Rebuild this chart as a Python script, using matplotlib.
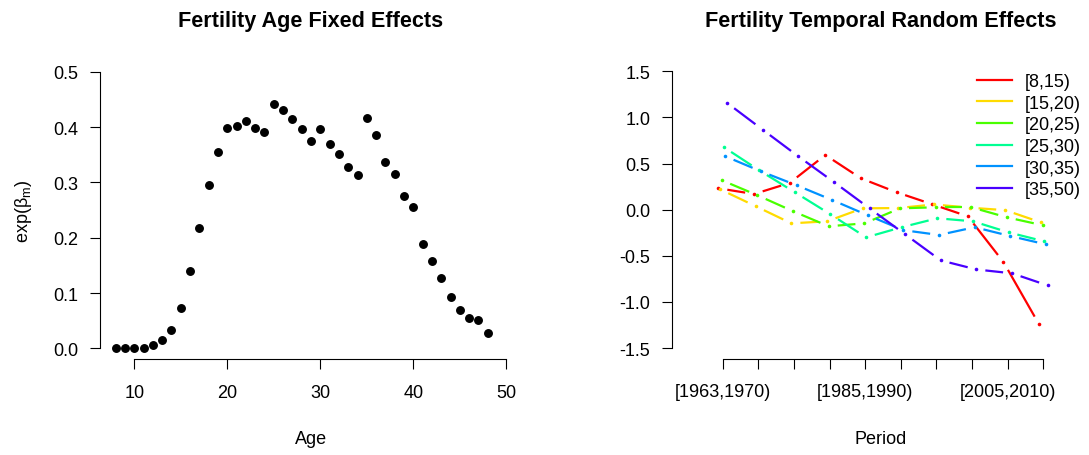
import numpy as np
import matplotlib
matplotlib.use("Agg")
import matplotlib.pyplot as plt
from matplotlib.lines import Line2D

plt.rcParams['font.family'] = ['Liberation Sans', 'DejaVu Sans']
plt.rcParams['mathtext.fontset'] = 'custom'
plt.rcParams['mathtext.rm'] = 'Liberation Sans'
plt.rcParams['mathtext.it'] = 'Liberation Sans'
plt.rcParams['font.size'] = 13

# left panel: age fixed effects
ages = np.arange(8, 49)
age_effects = [0.001, 0.001, 0.001, 0.001, 0.0066, 0.015, 0.034, 0.073, 0.139, 0.218,
               0.296, 0.355, 0.398, 0.402, 0.411, 0.399, 0.392, 0.442, 0.431, 0.415,
               0.397, 0.375, 0.397, 0.370, 0.351, 0.327, 0.313, 0.417, 0.386, 0.337,
               0.316, 0.276, 0.256, 0.189, 0.158, 0.128, 0.093, 0.070, 0.055, 0.052,
               0.028]

# right panel: temporal random effects by age group
periods = ['[1963,1970)', '[1970,1975)', '[1975,1980)', '[1980,1985)', '[1985,1990)',
           '[1990,1995)', '[1995,2000)', '[2000,2005)', '[2005,2010)', '[2010,2015)']
groups = ['[8,15)', '[15,20)', '[20,25)', '[25,30)', '[30,35)', '[35,50)']
re_8_15 = [0.232, 0.170, 0.290, 0.593, 0.340, 0.189, 0.059, -0.072, -0.568, -1.244]
re_15_20 = [0.221, 0.037, -0.148, -0.126, 0.015, 0.018, 0.057, 0.022, -0.005, -0.137]
re_20_25 = [0.319, 0.156, -0.017, -0.180, -0.148, 0.015, 0.026, 0.026, -0.083, -0.168]
re_25_30 = [0.680, 0.427, 0.189, -0.050, -0.300, -0.190, -0.093, -0.126, -0.246, -0.343]
re_30_35 = [0.579, 0.416, 0.265, 0.105, -0.061, -0.222, -0.274, -0.190, -0.286, -0.376]
re_35_50 = [1.159, 0.868, 0.579, 0.300, 0.015, -0.267, -0.550, -0.648, -0.690, -0.821]
series = [re_8_15, re_15_20, re_20_25, re_25_30, re_30_35, re_35_50]
colors = ['#FF0000', '#FFDB00', '#49FF00', '#00FF92', '#0092FF', '#4900FF']

W, H = 1089, 456
fig = plt.figure(figsize=(W / 100, H / 100), dpi=100)

def px_axes(x0, x1, y0, y1):
    return fig.add_axes([x0 / W, 1 - y1 / H, (x1 - x0) / W, (y1 - y0) / H])

def r_style(ax, xb, yb):
    for s in ['top', 'right']:
        ax.spines[s].set_visible(False)
    ax.spines['left'].set_bounds(*yb)
    ax.spines['bottom'].set_bounds(*xb)
    for s in ['left', 'bottom']:
        ax.spines[s].set_linewidth(0.8)
    ax.tick_params(length=7.5, width=0.8, labelsize=13)
    ax.tick_params(axis='y', pad=8)
    ax.tick_params(axis='x', pad=10)

# ---- left
ax1 = px_axes(100, 522, 61.7, 360.4)
ax1.plot(ages, age_effects, 'o', color='black', ms=5.4)
ax1.set_xlim(6.32, 51.68)
ax1.set_ylim(-0.02, 0.52)
ax1.set_xticks([10, 20, 30, 40, 50])
ax1.set_yticks([0.0, 0.1, 0.2, 0.3, 0.4, 0.5])
ax1.set_yticklabels(['%.1f' % v for v in ax1.get_yticks()])
r_style(ax1, (10, 50), (0, 0.5))
ax1.set_title('Fertility Age Fixed Effects', fontsize=15.6, fontweight='bold', pad=25)
ax1.set_xlabel('Age', labelpad=21)
ax1.set_ylabel(r'exp($\beta_{\rm m}$)', labelpad=14)

# ---- right
ax2 = px_axes(672, 1089, 61.3, 360.1)
ax2.set_xlim(-1.423, 10.28)
ax2.set_ylim(-1.62, 1.62)
x = np.arange(len(periods))
offsets = np.linspace(-0.12, 0.12, len(series))
gap = 9.0  # px gap around points (R type="b")
for vals, c, off in zip(series, colors, offsets):
    xs = x + off
    pts = ax2.transData.transform(np.column_stack([xs, vals]))
    for i in range(len(pts) - 1):
        p0, p1 = pts[i], pts[i + 1]
        d = p1 - p0
        L = np.hypot(*d)
        if L <= 2 * gap:
            continue
        u = d / L
        seg = ax2.transData.inverted().transform(np.array([p0 + u * gap, p1 - u * gap]))
        ax2.plot(seg[:, 0], seg[:, 1], color=c, lw=1.6, solid_capstyle='butt')
    ax2.plot(xs, vals, 'o', color=c, ms=2.6, mew=0)
ax2.set_yticks([-1.5, -1.0, -0.5, 0.0, 0.5, 1.0, 1.5])
ax2.set_yticklabels(['%.1f' % v for v in ax2.get_yticks()])
ax2.set_xticks(x)
ax2.set_xticklabels([p if i % 4 == 0 else '' for i, p in enumerate(periods)])
r_style(ax2, (0, 9), (-1.5, 1.5))
ax2.set_title('Fertility Temporal Random Effects', fontsize=15.6, fontweight='bold', pad=25)
ax2.set_xlabel('Period', labelpad=21)

handles = [Line2D([], [], color=c, lw=1.6) for c in colors]
fig.legend(handles, groups, loc='upper left', frameon=False,
           bbox_to_anchor=(976.7 / W, 1 - 74 / H), borderaxespad=0, borderpad=0,
           handlelength=1.95, handletextpad=0.7, labelspacing=0.26, fontsize=13)

fig.savefig('out.png', dpi=100)
